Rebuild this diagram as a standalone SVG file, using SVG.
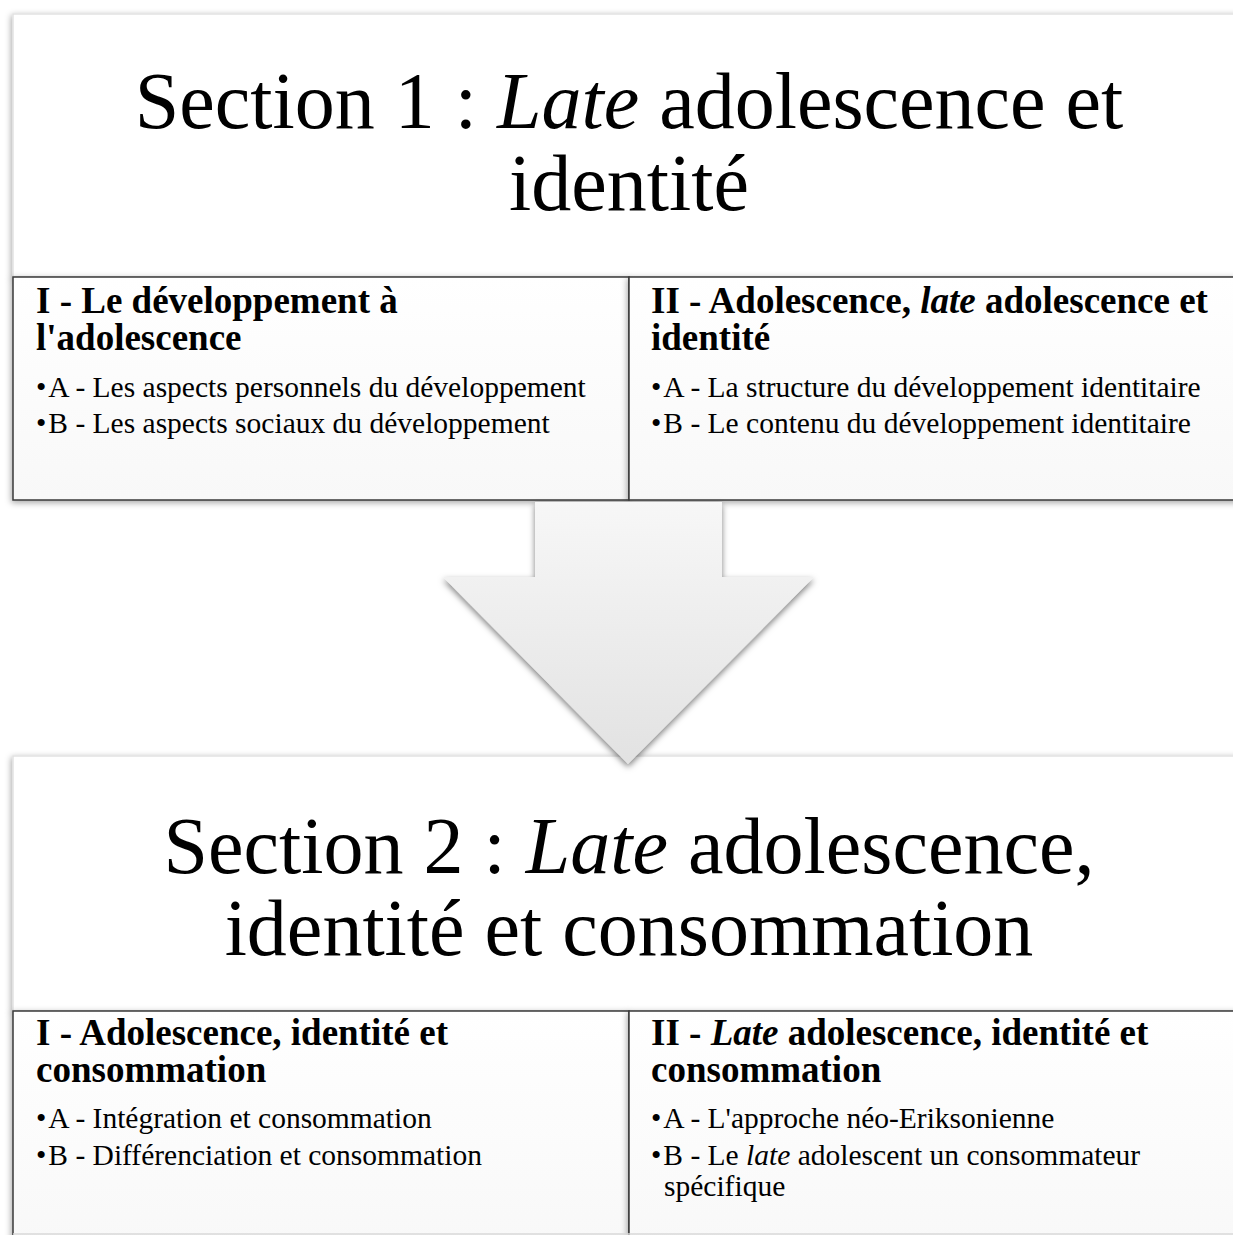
<svg xmlns="http://www.w3.org/2000/svg" width="1233" height="1235" viewBox="0 0 1233 1235">
<style>
.title{font-family:"Liberation Serif","Times New Roman",serif;font-size:80px;fill:#000;text-anchor:middle}
.head{font-family:"Liberation Serif","Times New Roman",serif;font-size:37px;font-weight:bold;fill:#000}
.item{font-family:"Liberation Serif","Times New Roman",serif;font-size:29.5px;fill:#000}
.big{fill:#fff;stroke:#e2e2e2;stroke-width:1.5}
.sub{fill:url(#subg);stroke:#3a3a3a;stroke-width:1.5}
</style>
<defs>
<filter id="sh" x="-5%" y="-10%" width="110%" height="125%">
<feDropShadow dx="-1" dy="2" stdDeviation="3" flood-color="#000" flood-opacity="0.35"/>
</filter>
<filter id="ash" x="-10%" y="-10%" width="120%" height="125%">
<feDropShadow dx="0" dy="3" stdDeviation="3" flood-color="#000" flood-opacity="0.5"/>
</filter>
<linearGradient id="subg" x1="0" y1="0" x2="0" y2="1">
<stop offset="0" stop-color="#ffffff"/>
<stop offset="1" stop-color="#f8f8f8"/>
</linearGradient>
<linearGradient id="arrg" x1="0" y1="0" x2="0" y2="1">
<stop offset="0" stop-color="#f7f7f7"/>
<stop offset="1" stop-color="#e2e2e2"/>
</linearGradient>
</defs>
<rect width="1233" height="1235" fill="#fff"/>

<g id="section1">
<rect class="big" x="13" y="14" width="1240" height="263" filter="url(#sh)"/>
<text class="title" x="629" y="128">Section 1 : <tspan font-style="italic">Late</tspan> adolescence et</text>
<text class="title" x="629" y="210">identité</text>
</g>
<g id="s1-part1">
<rect class="sub" x="13" y="277" width="616" height="223" filter="url(#sh)"/>
<text class="head" x="36" y="313">I - Le développement à</text>
<text class="head" x="36" y="350">l'adolescence</text>
<text class="item" x="36" y="397">•<tspan dx="2">A - Les aspects personnels du développement</tspan></text>
<text class="item" x="36" y="433">•<tspan dx="2">B - Les aspects sociaux du développement</tspan></text>
</g>
<g id="s1-part2">
<rect class="sub" x="629" y="277" width="624" height="223" filter="url(#sh)"/>
<text class="head" x="651" y="313">II - Adolescence, <tspan font-style="italic">late</tspan> adolescence et</text>
<text class="head" x="651" y="350">identité</text>
<text class="item" x="651" y="397">•<tspan dx="2">A - La structure du développement identitaire</tspan></text>
<text class="item" x="651" y="433">•<tspan dx="2">B - Le contenu du développement identitaire</tspan></text>
</g>

<g id="section2">
<rect class="big" x="13" y="756" width="1240" height="255" filter="url(#sh)"/>
<text class="title" x="629" y="873">Section 2 : <tspan font-style="italic">Late</tspan> adolescence,</text>
<text class="title" x="629" y="955">identité et consommation</text>
</g>
<g id="s2-part1">
<rect class="sub" x="13" y="1011" width="616" height="240" filter="url(#sh)"/>
<text class="head" x="36" y="1045">I - Adolescence, identité et</text>
<text class="head" x="36" y="1082">consommation</text>
<text class="item" x="36" y="1128">•<tspan dx="2">A - Intégration et consommation</tspan></text>
<text class="item" x="36" y="1165">•<tspan dx="2">B - Différenciation et consommation</tspan></text>
</g>
<g id="s2-part2">
<rect class="sub" x="629" y="1011" width="624" height="240" filter="url(#sh)"/>
<text class="head" x="651" y="1045">II - <tspan font-style="italic">Late</tspan> adolescence, identité et</text>
<text class="head" x="651" y="1082">consommation</text>
<text class="item" x="651" y="1128">•<tspan dx="2">A - L'approche néo-Eriksonienne</tspan></text>
<text class="item" x="651" y="1165">•<tspan dx="2">B - Le </tspan><tspan font-style="italic">late</tspan> adolescent un consommateur</text>
<text class="item" x="664" y="1196">spécifique</text>
</g>
<line x1="13" y1="1234" x2="1233" y2="1234" stroke="#d8d8d8" stroke-width="1.5"/>

<g id="connectors">
<polygon points="535,502 722,502 722,577 814,577 628,764 443,577 535,577" fill="url(#arrg)" filter="url(#ash)"/>
</g>
</svg>
